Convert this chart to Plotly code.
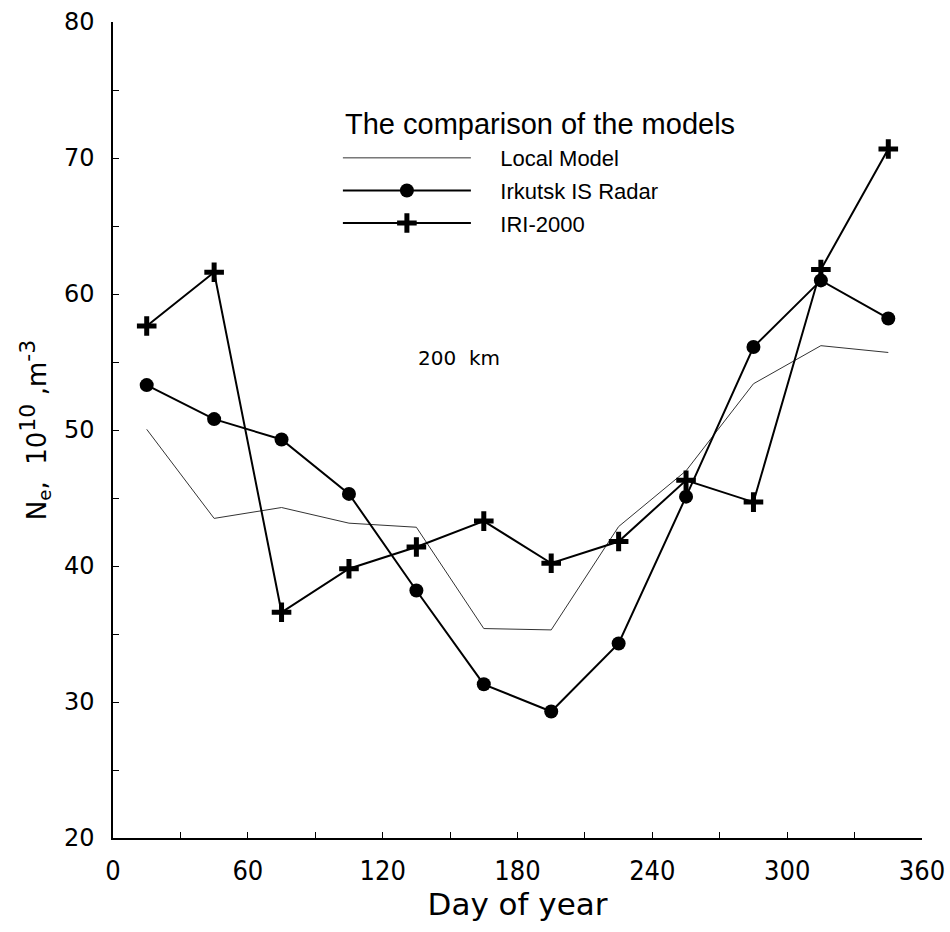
import plotly.graph_objects as go

days = [15, 45, 75, 105, 135, 165, 195, 225, 255, 285, 315, 345]
local_model = [50.05, 43.5, 44.3, 43.15, 42.85, 35.4, 35.3, 42.9, 47.0, 53.4, 56.2, 55.7]
irkutsk_radar = [53.3, 50.8, 49.3, 45.3, 38.2, 31.3, 29.3, 34.3, 45.1, 56.1, 61.0, 58.2]
iri_2000 = [57.65, 61.6, 36.6, 39.8, 41.4, 43.3, 40.2, 41.8, 46.3, 44.7, 61.8, 70.66]

series_names = ["Local Model", "Irkutsk IS Radar", "IRI-2000"]
x_ticks = [0, 60, 120, 180, 240, 300, 360]
y_ticks = [20, 30, 40, 50, 60, 70, 80]

pad = "&nbsp;" * 4

fig = go.Figure()
fig.add_trace(go.Scatter(
    x=days, y=local_model, mode="lines", name=pad + series_names[0],
    line=dict(color="#333333", width=1), legendgroup="a"))
fig.add_trace(go.Scatter(
    x=days, y=irkutsk_radar, mode="lines+markers", name=pad + series_names[1],
    line=dict(color="black", width=2), legendgroup="b",
    marker=dict(symbol="circle", size=14, color="black")))
fig.add_trace(go.Scatter(
    x=days, y=iri_2000, mode="lines+markers", name=pad + series_names[2],
    line=dict(color="black", width=2), legendgroup="c",
    marker=dict(symbol="cross-thin", size=14, color="black",
                line=dict(color="black", width=5))))

fig.add_annotation(x=154, y=55.3, text="200&nbsp;&nbsp;km", showarrow=False,
                   font=dict(family="DejaVu Sans", size=20, color="black"))

fig.add_annotation(xref="paper", yref="paper", x=0.2843, y=0.8756,
                   xanchor="left", yanchor="middle", showarrow=False,
                   text="The comparison of the models",
                   font=dict(family="Liberation Sans", size=29, color="black"))

axis_common = dict(
    showline=True, linecolor="black", linewidth=1.5, mirror=False,
    showgrid=False, zeroline=False, ticks="inside", ticklen=6,
    tickwidth=1.2, tickcolor="black", automargin=False,
)

sup = '<sup><span style="font-size:22px">{}</span></sup>'
ytitle = ("N<sub>e</sub>,&nbsp;&nbsp;10" + sup.format("10") +
          "&nbsp;,m" + sup.format("-3"))

fig.update_layout(
    template="none",
    width=950, height=932,
    paper_bgcolor="white", plot_bgcolor="white",
    margin=dict(l=113, r=28, t=22, b=94),
    showlegend=True,
    legend=dict(
        x=0.278, y=0.859, xanchor="left", yanchor="top",
        font=dict(family="Liberation Sans", size=22, color="black"),
        itemwidth=128, traceorder="grouped", tracegroupgap=1,
        bgcolor="rgba(0,0,0,0)", borderwidth=0,
    ),
    xaxis=dict(
        range=[0, 360], tickvals=x_ticks, ticktext=[str(v) for v in x_ticks],
        minor=dict(dtick=30, ticks="inside", ticklen=6, tickcolor="black"),
        tickfont=dict(family="Liberation Sans Narrow, DejaVu Sans Condensed, Liberation Sans",
                      size=27, color="black"),
        ticklabelstandoff=8,
        title=dict(text="Day of year", font=dict(family="DejaVu Sans", size=31, color="black"),
                   standoff=6),
        **axis_common),
    yaxis=dict(
        range=[20, 80], tickvals=y_ticks, ticktext=[str(v) for v in y_ticks],
        minor=dict(dtick=5, ticks="inside", ticklen=6, tickcolor="black"),
        tickfont=dict(family="DejaVu Sans", size=24, color="black"),
        ticklabelstandoff=12,
        title=dict(text=ytitle,
                   font=dict(family="DejaVu Sans", size=26, color="black"),
                   standoff=10),
        **axis_common),
)

fig.write_html("out.html", config={"displayModeBar": False},
               post_script="document.body.style.margin='0';")
